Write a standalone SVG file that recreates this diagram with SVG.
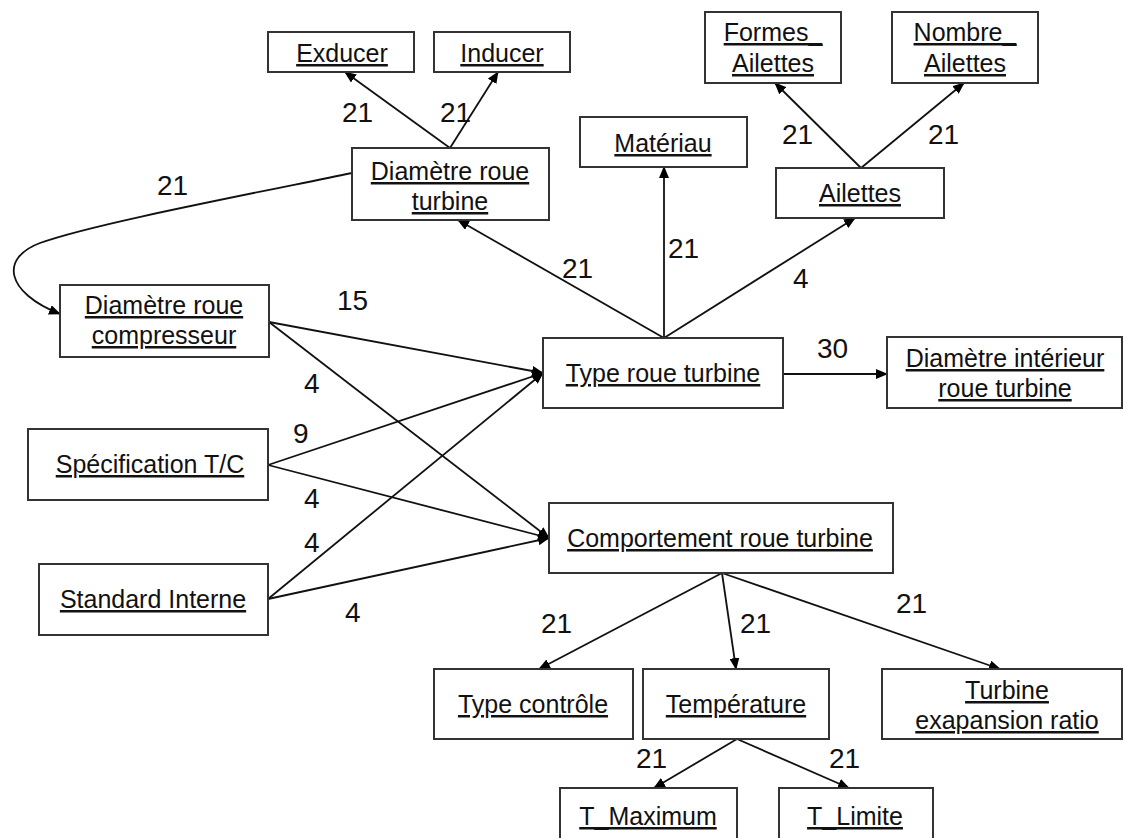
<svg xmlns="http://www.w3.org/2000/svg" width="1125" height="838" viewBox="0 0 1125 838">
<defs>
<marker id="ah" markerWidth="12" markerHeight="10" refX="11" refY="5" orient="auto" markerUnits="userSpaceOnUse">
<path d="M0,0 L12,5 L0,10 Z" fill="#000"/>
</marker>
<style>
.box{fill:#fff;stroke:#333;stroke-width:2}
.t{font-family:"Liberation Sans",Arial,sans-serif;font-size:25px;fill:#111;text-anchor:middle;text-decoration:underline}
.n{font-family:"Liberation Sans",Arial,sans-serif;font-size:28px;fill:#111}
.e{fill:none;stroke:#111;stroke-width:1.8;marker-end:url(#ah)}
</style>
</defs>
<rect width="1125" height="838" fill="#fff"/>
<g id="connectors">
<line class="e" x1="450" y1="148" x2="345" y2="72"/>
<line class="e" x1="450" y1="148" x2="498" y2="72"/>
<path class="e" d="M352,173 C220,200 90,225 40,243 C0,258 5,292 60,314"/>
<line class="e" x1="664" y1="338" x2="458" y2="220"/>
<line class="e" x1="664" y1="338" x2="664" y2="167"/>
<line class="e" x1="664" y1="338" x2="855" y2="218"/>
<line class="e" x1="861" y1="168" x2="775" y2="83"/>
<line class="e" x1="861" y1="168" x2="964" y2="83"/>
<line class="e" x1="783" y1="374" x2="887" y2="374"/>
<line class="e" x1="269" y1="322" x2="543" y2="373"/>
<line class="e" x1="269" y1="322" x2="549" y2="538"/>
<line class="e" x1="268" y1="465" x2="543" y2="373"/>
<line class="e" x1="268" y1="465" x2="549" y2="538"/>
<line class="e" x1="268" y1="599" x2="543" y2="373"/>
<line class="e" x1="268" y1="599" x2="549" y2="538"/>
<line class="e" x1="722" y1="573" x2="539" y2="669"/>
<line class="e" x1="722" y1="573" x2="736" y2="669"/>
<line class="e" x1="722" y1="573" x2="1000" y2="669"/>
<line class="e" x1="737" y1="739" x2="654" y2="788"/>
<line class="e" x1="737" y1="739" x2="849" y2="788"/>
<text class="n" x="157" y="195">21</text>
<text class="n" x="342" y="122">21</text>
<text class="n" x="440" y="122">21</text>
<text class="n" x="782" y="144">21</text>
<text class="n" x="928" y="144">21</text>
<text class="n" x="562" y="278">21</text>
<text class="n" x="668" y="258">21</text>
<text class="n" x="793" y="288">4</text>
<text class="n" x="337" y="310">15</text>
<text class="n" x="817" y="358">30</text>
<text class="n" x="304" y="393">4</text>
<text class="n" x="293" y="443">9</text>
<text class="n" x="304" y="508">4</text>
<text class="n" x="304" y="552">4</text>
<text class="n" x="345" y="622">4</text>
<text class="n" x="541" y="633">21</text>
<text class="n" x="740" y="633">21</text>
<text class="n" x="896" y="613">21</text>
<text class="n" x="636" y="768">21</text>
<text class="n" x="829" y="768">21</text>
</g>
<g id="exducer"><rect class="box" x="268" y="32" width="146" height="40"/><text class="t" x="342" y="62">Exducer</text></g>
<g id="inducer"><rect class="box" x="434" y="32" width="136" height="40"/><text class="t" x="502" y="62">Inducer</text></g>
<g id="diametre-roue-turbine"><rect class="box" x="352" y="148" width="197" height="72"/><text class="t" x="450" y="180">Diamètre roue</text><text class="t" x="450" y="210">turbine</text></g>
<g id="formes-ailettes"><rect class="box" x="705" y="12" width="136" height="71"/><text class="t" x="773" y="41">Formes_</text><text class="t" x="773" y="72">Ailettes</text></g>
<g id="nombre-ailettes"><rect class="box" x="892" y="12" width="146" height="71"/><text class="t" x="965" y="41">Nombre_</text><text class="t" x="965" y="72">Ailettes</text></g>
<g id="materiau"><rect class="box" x="580" y="117" width="167" height="50"/><text class="t" x="663" y="152">Matériau</text></g>
<g id="ailettes"><rect class="box" x="776" y="168" width="168" height="50"/><text class="t" x="860" y="202">Ailettes</text></g>
<g id="diametre-roue-compresseur"><rect class="box" x="60" y="285" width="209" height="72"/><text class="t" x="164" y="314">Diamètre roue</text><text class="t" x="164" y="344">compresseur</text></g>
<g id="type-roue-turbine"><rect class="box" x="543" y="338" width="240" height="70"/><text class="t" x="663" y="382">Type roue turbine</text></g>
<g id="diametre-interieur"><rect class="box" x="887" y="337" width="235" height="71"/><text class="t" x="1005" y="367">Diamètre intérieur</text><text class="t" x="1005" y="397">roue turbine</text></g>
<g id="specification"><rect class="box" x="28" y="429" width="240" height="71"/><text class="t" x="150" y="473">Spécification T/C</text></g>
<g id="standard-interne"><rect class="box" x="39" y="564" width="229" height="71"/><text class="t" x="153" y="608">Standard Interne</text></g>
<g id="comportement"><rect class="box" x="549" y="503" width="344" height="70"/><text class="t" x="720" y="547">Comportement roue turbine</text></g>
<g id="type-controle"><rect class="box" x="434" y="669" width="199" height="70"/><text class="t" x="533" y="713">Type contrôle</text></g>
<g id="temperature"><rect class="box" x="643" y="669" width="186" height="70"/><text class="t" x="736" y="713">Température</text></g>
<g id="turbine-ratio"><rect class="box" x="882" y="669" width="240" height="70"/><text class="t" x="1007" y="699">Turbine</text><text class="t" x="1007" y="729">exapansion ratio</text></g>
<g id="t-maximum"><rect class="box" x="560" y="788" width="177" height="60"/><text class="t" x="648" y="825">T_Maximum</text></g>
<g id="t-limite"><rect class="box" x="779" y="788" width="154" height="60"/><text class="t" x="855" y="825">T_Limite</text></g>
</svg>
